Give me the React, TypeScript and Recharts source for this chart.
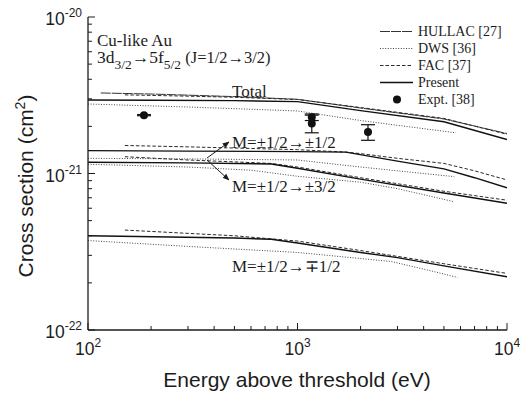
import { ComposedChart, Line, Scatter, ErrorBar, XAxis, YAxis, Legend } from 'recharts';

// cross sections in units of 1e-21 cm^2, energies in eV
const X_TICKS = [100, 200, 300, 400, 500, 600, 700, 800, 900, 1000, 2000, 3000, 4000, 5000, 6000, 7000, 8000, 9000, 10000];
const Y_TICKS = [0.1, 0.2, 0.3, 0.4, 0.5, 0.6, 0.7, 0.8, 0.9, 1, 2, 3, 4, 5, 6, 7, 8, 9, 10];

// Total
const hullacTotal = [[115, 3.27], [200, 3.22], [500, 3.1], [1000, 2.98], [2000, 2.62], [5000, 2.23], [10000, 1.8]];
const dwsTotal = [[100, 2.78], [300, 2.66], [1000, 2.51], [2000, 2.18], [5700, 1.82]];
const facTotal = [[150, 3.18], [300, 3.12], [500, 3.07], [1000, 2.97], [2000, 2.64], [5000, 2.25], [10000, 1.78]];
const presentTotal = [[100, 2.95], [200, 2.94], [500, 2.92], [1000, 2.88], [2000, 2.52], [5000, 2.14], [10000, 1.65]];

// M=±1/2 -> ±1/2
const dwsM11 = [[100, 1.25], [300, 1.24], [1000, 1.22], [2000, 1.1], [3000, 1.04], [5600, 0.955]];
const facM11 = [[150, 1.51], [300, 1.48], [1000, 1.42], [1700, 1.37], [2000, 1.34], [3000, 1.25], [5000, 1.16], [7000, 1.04], [10000, 0.91]];
const presentM11 = [[100, 1.4], [300, 1.39], [1000, 1.38], [1700, 1.37], [3000, 1.2], [5000, 1.07], [7000, 0.94], [10000, 0.81]];

// M=±1/2 -> ±3/2
const dwsM13 = [[100, 1.146], [300, 1.1], [600, 1.05], [1000, 0.96], [2000, 0.88], [3000, 0.8], [5600, 0.66]];
const facM13 = [[150, 1.28], [300, 1.22], [750, 1.16], [1000, 1.1], [2000, 0.94], [5000, 0.77], [10000, 0.675]];
const presentM13 = [[100, 1.18], [300, 1.17], [750, 1.15], [1000, 1.08], [2000, 0.92], [5000, 0.75], [10000, 0.645]];

// M=±1/2 -> ∓1/2
const dwsM1m1 = [[100, 0.373], [300, 0.342], [1000, 0.313], [2800, 0.274], [4000, 0.245], [5800, 0.217]];
const facM1m1 = [[150, 0.435], [500, 0.4], [1000, 0.37], [2000, 0.322], [5000, 0.265], [10000, 0.23]];
const presentM1m1 = [[100, 0.4], [500, 0.387], [750, 0.38], [1000, 0.36], [2000, 0.313], [3000, 0.29], [5000, 0.257], [10000, 0.219]];

// Expt. [38]: energy, cross section, error
const exptE = [185, 1170, 1170, 2170];
const exptSigma = [2.36, 2.29, 2.09, 1.84];
const exptErr = [0.02, 0.11, 0.27, 0.21];

const INK = '#1c1c1c';
const SERIF = '"Liberation Serif", "Times New Roman", serif';
const SANS = '"Liberation Sans", Arial, sans-serif';

const STYLES = {
  hullac: { stroke: '#333', strokeWidth: 1, strokeDasharray: '10 1' },
  dws: { stroke: '#444', strokeWidth: 1, strokeDasharray: '1 1.6' },
  fac: { stroke: '#2a2a2a', strokeWidth: 1, strokeDasharray: '3.5 2' },
  present: { stroke: '#111', strokeWidth: 1.4, strokeDasharray: undefined },
};

const LEGEND = [
  { label: 'HULLAC [27]', kind: 'hullac' },
  { label: 'DWS [36]', kind: 'dws' },
  { label: 'FAC [37]', kind: 'fac' },
  { label: 'Present', kind: 'present' },
  { label: 'Expt. [38]', kind: 'expt' },
];

const SERIES: { data: number[][]; kind: keyof typeof STYLES }[] = [
  { data: hullacTotal, kind: 'hullac' },
  { data: dwsTotal, kind: 'dws' },
  { data: facTotal, kind: 'fac' },
  { data: presentTotal, kind: 'present' },
  { data: dwsM11, kind: 'dws' },
  { data: facM11, kind: 'fac' },
  { data: presentM11, kind: 'present' },
  { data: dwsM13, kind: 'dws' },
  { data: facM13, kind: 'fac' },
  { data: presentM13, kind: 'present' },
  { data: dwsM1m1, kind: 'dws' },
  { data: facM1m1, kind: 'fac' },
  { data: presentM1m1, kind: 'present' },
];

const toPoints = (d: number[][]) => d.map(([x, y]) => ({ x, y }));
const exptData = exptE.map((x, i) => ({ x, y: exptSigma[i], err: exptErr[i] }));

const isDecade = (v: number) => Math.abs(Math.log10(v) - Math.round(Math.log10(v))) < 1e-9;

function BottomTick({ x, y, payload }: any) {
  const major = isDecade(payload.value);
  return (
    <g>
      <line x1={x} y1={y} x2={x} y2={y - (major ? 7 : 4)} stroke={INK} strokeWidth={1} />
      {major && (
        <text x={x} y={y + 25} textAnchor="middle" fontFamily={SANS} fontSize={17.5} fill={INK}>
          10<tspan fontSize={12} dy={-8}>{Math.round(Math.log10(payload.value))}</tspan>
        </text>
      )}
    </g>
  );
}

function TopTick({ x, y, payload }: any) {
  const major = isDecade(payload.value);
  return <line x1={x} y1={y} x2={x} y2={y + (major ? 7 : 4)} stroke={INK} strokeWidth={1} />;
}

function LeftTick({ x, y, payload }: any) {
  const major = isDecade(payload.value);
  return (
    <g>
      <line x1={x} y1={y} x2={x + (major ? 7 : 4)} y2={y} stroke={INK} strokeWidth={1} />
      {major && (
        <text x={x - 6} y={y + 8} textAnchor="end" fontFamily={SANS} fontSize={17.5} fill={INK}>
          10<tspan fontSize={12} dy={-8}>{Math.round(Math.log10(payload.value)) - 21}</tspan>
        </text>
      )}
    </g>
  );
}

function RightTick({ x, y, payload }: any) {
  const major = isDecade(payload.value);
  return <line x1={x} y1={y} x2={x - (major ? 7 : 4)} y2={y} stroke={INK} strokeWidth={1} />;
}

function LegendBox() {
  return (
    <div style={{ fontFamily: SERIF, fontSize: 14, color: INK }}>
      {LEGEND.map((item) => (
        <div key={item.label} style={{ display: 'flex', alignItems: 'center', height: 17 }}>
          <svg width={37} height={17}>
            {item.kind === 'expt' ? (
              <circle cx={19} cy={8.5} r={4} fill="#111" />
            ) : (
              <line x1={2} y1={8.5} x2={35} y2={8.5} {...STYLES[item.kind as keyof typeof STYLES]} />
            )}
          </svg>
          <span style={{ marginLeft: 3, whiteSpace: 'nowrap' }}>{item.label}</span>
        </div>
      ))}
    </div>
  );
}

export default function App() {
  const axisLine = { stroke: INK, strokeWidth: 1.3 };
  return (
    <div style={{ position: 'absolute', left: 0, top: 0, width: 520, height: 394, background: '#fff' }}>
      <ComposedChart width={520} height={394} margin={{ top: 17, right: 13, bottom: 0, left: 0 }}>
        <XAxis
          xAxisId="b"
          type="number"
          dataKey="x"
          scale="log"
          domain={[100, 10000]}
          allowDataOverflow
          ticks={X_TICKS}
          interval={0}
          height={64}
          tickSize={0}
          tickMargin={0}
          tickLine={false}
          axisLine={axisLine}
          tick={<BottomTick />}
        />
        <XAxis
          xAxisId="t"
          orientation="top"
          type="number"
          dataKey="x"
          scale="log"
          domain={[100, 10000]}
          allowDataOverflow
          ticks={X_TICKS}
          interval={0}
          height={0}
          tickSize={0}
          tickMargin={0}
          tickLine={false}
          axisLine={axisLine}
          tick={<TopTick />}
        />
        <YAxis
          yAxisId="l"
          type="number"
          scale="log"
          domain={[0.1, 10]}
          allowDataOverflow
          ticks={Y_TICKS}
          interval={0}
          width={88}
          tickSize={0}
          tickMargin={0}
          tickLine={false}
          axisLine={axisLine}
          tick={<LeftTick />}
        />
        <YAxis
          yAxisId="r"
          orientation="right"
          type="number"
          scale="log"
          domain={[0.1, 10]}
          allowDataOverflow
          ticks={Y_TICKS}
          interval={0}
          width={0}
          tickSize={0}
          tickMargin={0}
          tickLine={false}
          axisLine={axisLine}
          tick={<RightTick />}
        />
        <Legend
          layout="vertical"
          align="center"
          verticalAlign="middle"
          content={<LegendBox />}
          wrapperStyle={{ left: 378, top: 23, width: 140, height: 90 }}
        />
        {SERIES.map((s, i) => (
          <Line
            key={i}
            xAxisId="b"
            yAxisId="l"
            data={toPoints(s.data)}
            dataKey="y"
            type="linear"
            dot={false}
            activeDot={false}
            fill="none"
            isAnimationActive={false}
            {...STYLES[s.kind]}
          />
        ))}
        <Scatter
          xAxisId="b"
          yAxisId="l"
          data={exptData}
          dataKey="y"
          isAnimationActive={false}
          shape={(p: any) => <circle cx={p.cx} cy={p.cy} r={4} fill="#111" />}
        >
          <ErrorBar dataKey="err" direction="y" width={7} stroke="#111" strokeWidth={1.2} isAnimationActive={false} />
        </Scatter>
      </ComposedChart>
      <svg width={520} height={394} style={{ position: 'absolute', left: 0, top: 0, pointerEvents: 'none' }}>
        <defs>
          <marker id="ah" viewBox="0 0 10 10" refX="9" refY="5" markerWidth="7" markerHeight="7" orient="auto">
            <path d="M0,1 L10,5 L0,9 z" fill={INK} />
          </marker>
        </defs>
        <g fontFamily={SERIF} fill={INK}>
          <text x={97} y={46} fontSize={17}>Cu-like Au</text>
          <text x={97} y={63} fontSize={17.5}>
            3d<tspan fontSize={13.5} dy={6}>3/2</tspan>
            <tspan dy={-6}>→5f</tspan>
            <tspan fontSize={13.5} dy={6}>5/2</tspan>
            <tspan dy={-6} fontSize={16.5}> (J=1/2→3/2)</tspan>
          </text>
          <text x={232} y={97} fontSize={17}>Total</text>
          <text x={232} y={148} fontSize={17}>M=±1/2→±1/2</text>
          <text x={232} y={192} fontSize={17}>M=±1/2→±3/2</text>
          <text x={232} y={272} fontSize={17}>M=±1/2→∓1/2</text>
        </g>
        <line x1={207} y1={158} x2={229} y2={142} stroke={INK} strokeWidth={1} markerEnd="url(#ah)" />
        <line x1={207} y1={160} x2={229} y2={180} stroke={INK} strokeWidth={1} markerEnd="url(#ah)" />
        <text x={297} y={387} textAnchor="middle" fontFamily={SANS} fontSize={21} fill={INK}>
          Energy above threshold (eV)
        </text>
        <text x={33} y={186} transform="rotate(-90 33 186)" textAnchor="middle" fontFamily={SANS} fontSize={21} fill={INK}>
          Cross section (cm<tspan fontSize={14} dy={-8}>2</tspan><tspan dy={8}>)</tspan>
        </text>
      </svg>
    </div>
  );
}
